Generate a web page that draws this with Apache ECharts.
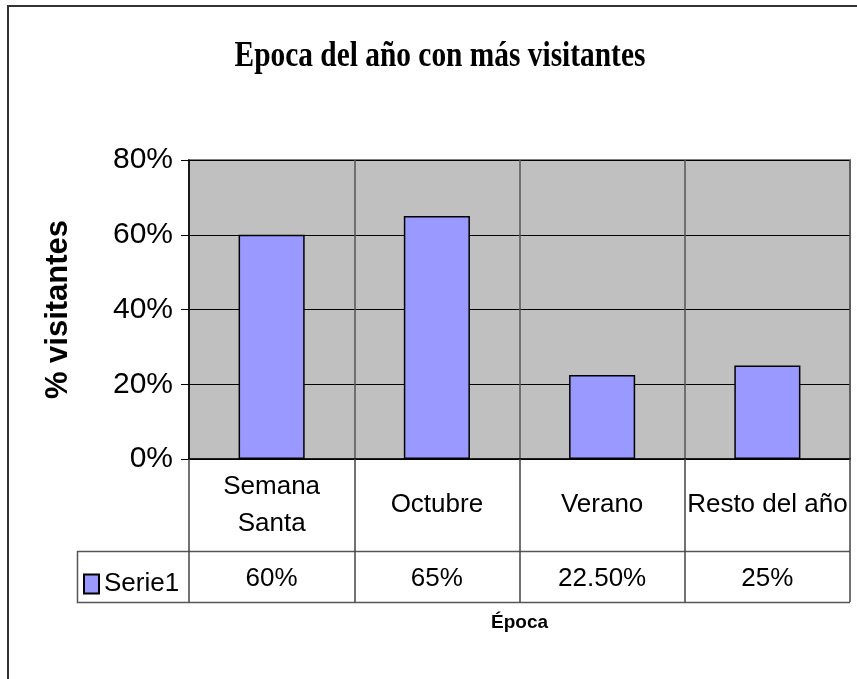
<!DOCTYPE html>
<html>
<head>
<meta charset="utf-8">
<title>Epoca del año con más visitantes</title>
<script src="https://cdn.jsdelivr.net/npm/echarts@6/dist/echarts.min.js"></script>
<style>
    html, body { margin: 0; padding: 0; background: #fff; }
    #chart { width: 857px; height: 679px; }
</style>
</head>
<body>
<div id="chart"></div>
<script>
    'use strict';

    // datos
    var categorias = ['Semana\nSanta', 'Octubre', 'Verano', 'Resto del año'];
    var valores = [0.60, 0.65, 0.225, 0.25];
    var etiquetasTabla = ['60%', '65%', '22.50%', '25%'];
    var nombreSerie = 'Serie1';
    var titulo = 'Epoca del año con más visitantes';

    var fuente = 'Liberation Sans, Arial, sans-serif';

    function pct(v) {
        return Math.round(v * 100) + '%';
    }

    var option = {
        backgroundColor: '#ffffff',
        animation: false,
        legend: {
            data: [nombreSerie],
            left: 78,
            top: 566,
            icon: 'rect',
            itemWidth: 15,
            itemHeight: 19,
            textStyle: { fontFamily: fuente, fontSize: 26, color: '#000' }
        },
        grid: {
            left: 189,
            top: 160,
            right: 7,
            bottom: 220,
            show: true,
            backgroundColor: '#c0c0c0',
            borderColor: '#808080',
            borderWidth: 2
        },
        xAxis: [{
            type: 'category',
            data: categorias,
            axisLine: { lineStyle: { color: '#000', width: 1.5 } },
            axisTick: {
                show: true,
                interval: 0,
                length: 143,
                lineStyle: { color: '#444', width: 1.5 }
            },
            splitLine: { show: true, interval: 0, lineStyle: { color: '#555', width: 1.5 } },
            axisLabel: {
                interval: 0,
                margin: 46,
                verticalAlign: 'middle',
                lineHeight: 37,
                fontFamily: fuente,
                fontSize: 26,
                color: '#000'
            }
        }, {
            type: 'category',
            data: etiquetasTabla,
            position: 'bottom',
            offset: 92,
            name: 'Época',
            nameLocation: 'middle',
            nameGap: 72,
            nameTextStyle: {
                fontFamily: fuente,
                fontWeight: 'bold',
                fontSize: 19,
                color: '#000',
                verticalAlign: 'middle'
            },
            axisLine: { show: false },
            axisTick: { show: false },
            splitLine: { show: false },
            axisLabel: {
                interval: 0,
                margin: 28,
                verticalAlign: 'middle',
                fontFamily: fuente,
                fontSize: 26,
                color: '#000'
            }
        }],
        yAxis: {
            type: 'value',
            min: 0,
            max: 0.8,
            interval: 0.2,
            name: '% visitantes',
            nameLocation: 'middle',
            nameGap: 115,
            nameRotate: 90,
            nameTextStyle: {
                fontFamily: fuente,
                fontWeight: 'bold',
                fontSize: 31,
                color: '#000'
            },
            axisLine: { show: true, lineStyle: { color: '#000', width: 1.5 } },
            axisTick: { show: true, length: 8, lineStyle: { color: '#000' } },
            splitLine: { show: true, lineStyle: { color: '#000', width: 1 } },
            axisLabel: {
                margin: 16,
                formatter: pct,
                fontFamily: fuente,
                fontSize: 30,
                color: '#000'
            }
        },
        series: [{
            name: nombreSerie,
            type: 'bar',
            data: valores,
            barWidth: '40%',
            itemStyle: {
                color: '#9999ff',
                borderColor: '#000',
                borderWidth: 1.5
            }
        }],
        graphic: [{
            // titulo, estrechado como en el original
            type: 'text',
            x: 440,
            y: 39,
            scaleX: 0.84,
            silent: true,
            style: {
                text: titulo,
                x: 0,
                y: 0,
                textAlign: 'center',
                textVerticalAlign: 'top',
                fontFamily: 'Liberation Serif, Times New Roman, serif',
                fontWeight: 'bold',
                fontSize: 35,
                fill: '#000'
            }
        }, {
            // marco exterior
            type: 'polyline',
            shape: { points: [[8, 679], [8, 6], [857, 6]] },
            style: { fill: null, stroke: '#333', lineWidth: 2 },
            silent: true
        }, {
            // lineas de la tabla de datos
            type: 'polyline',
            shape: { points: [[850, 551.5], [77.5, 551.5], [77.5, 602.5], [850, 602.5]] },
            style: { fill: null, stroke: '#555', lineWidth: 1.5 },
            silent: true
        }]
    };

    var chart = echarts.init(document.getElementById('chart'), null, { renderer: 'canvas' });
    chart.setOption(option, true);
</script>
</body>
</html>
